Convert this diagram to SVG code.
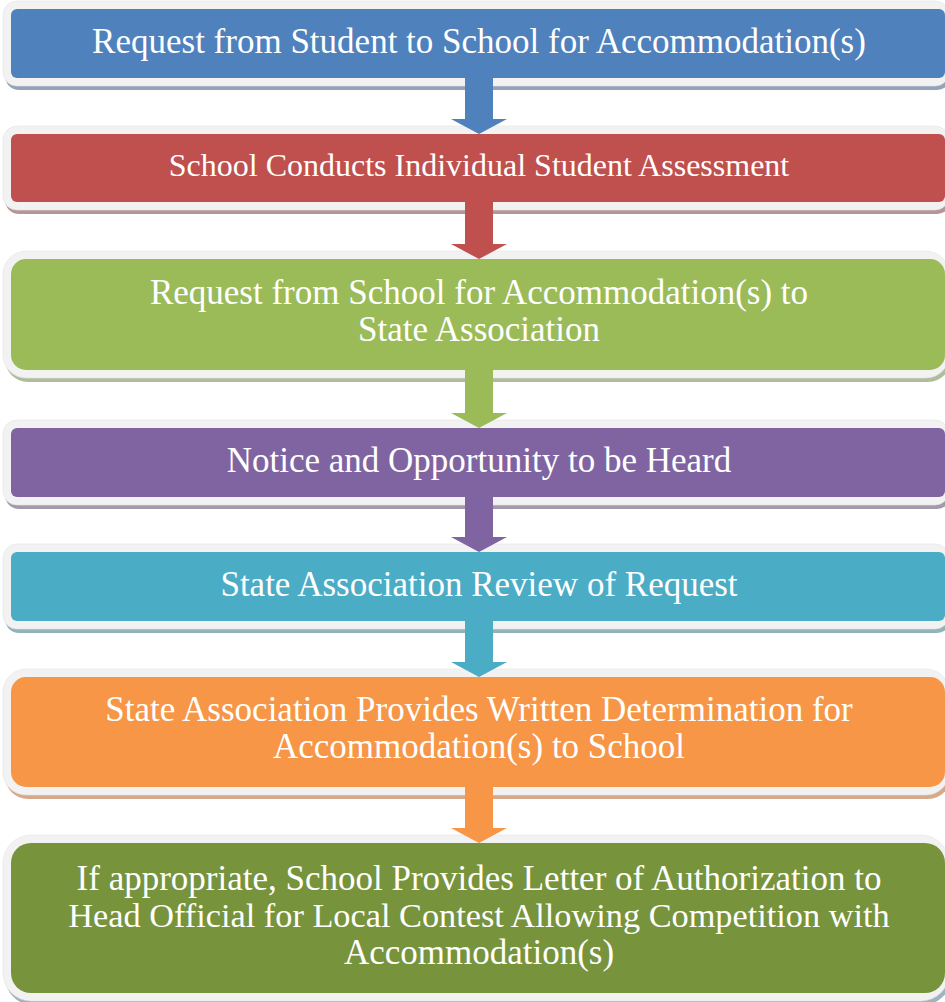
<svg xmlns="http://www.w3.org/2000/svg" width="945" height="1002" viewBox="0 0 945 1002">
<style>
.frame{fill:#f2f2f2;stroke:#e4e4e4;stroke-width:0.6}
.lbl{font-family:"Liberation Serif","Times New Roman",serif;font-size:35px;fill:#ffffff;text-anchor:middle}
</style>
<rect width="945" height="1002" fill="#ffffff"/>
<g id="node1">
<rect x="5" y="5" width="946" height="85" rx="14" fill="#93a3b8"/>
<rect class="frame" x="3" y="1" width="946" height="85" rx="14"/>
<rect x="11" y="9" width="934" height="69" rx="6" fill="#4f81bd"/>
<text class="lbl" x="479" y="53">Request from Student to School for Accommodation(s)</text>
</g>
<g id="node2">
<rect x="5" y="130" width="946" height="84" rx="14" fill="#b59696"/>
<rect class="frame" x="3" y="126" width="946" height="84" rx="14"/>
<rect x="11" y="134" width="934" height="68" rx="6" fill="#c0504d"/>
<text class="lbl" x="479" y="176" style="font-size:32px">School Conducts Individual Student Assessment</text>
</g>
<g id="node3">
<rect x="5" y="255" width="946" height="127" rx="23" fill="#b0bc9c"/>
<rect class="frame" x="3" y="251" width="946" height="127" rx="23"/>
<rect x="11" y="259" width="934" height="111" rx="15" fill="#9bbb59"/>
<text class="lbl" x="479" y="304">Request from School for Accommodation(s) to</text>
<text class="lbl" x="479" y="341">State Association</text>
</g>
<g id="node4">
<rect x="5" y="424" width="946" height="85" rx="14" fill="#a39bad"/>
<rect class="frame" x="3" y="420" width="946" height="85" rx="14"/>
<rect x="11" y="428" width="934" height="69" rx="6" fill="#8064a2"/>
<text class="lbl" x="479" y="472">Notice and Opportunity to be Heard</text>
</g>
<g id="node5">
<rect x="5" y="548" width="946" height="85" rx="14" fill="#93b2bc"/>
<rect class="frame" x="3" y="544" width="946" height="85" rx="14"/>
<rect x="11" y="552" width="934" height="69" rx="6" fill="#4bacc6"/>
<text class="lbl" x="479" y="596">State Association Review of Request</text>
</g>
<g id="node6">
<rect x="5" y="673" width="946" height="126" rx="23" fill="#d6a98b"/>
<rect class="frame" x="3" y="669" width="946" height="126" rx="23"/>
<rect x="11" y="677" width="934" height="110" rx="15" fill="#f79646"/>
<text class="lbl" x="479" y="721">State Association Provides Written Determination for</text>
<text class="lbl" x="479" y="758">Accommodation(s) to School</text>
</g>
<g id="node7">
<rect x="5" y="839" width="946" height="166" rx="28" fill="#9fb2bf"/>
<rect class="frame" x="3" y="835" width="946" height="166" rx="28"/>
<rect x="11" y="843" width="934" height="150" rx="20" fill="#77933c"/>
<text class="lbl" x="479" y="890">If appropriate, School Provides Letter of Authorization to</text>
<text class="lbl" x="479" y="927" style="font-size:34.3px">Head Official for Local Contest Allowing Competition with</text>
<text class="lbl" x="479" y="964">Accommodation(s)</text>
</g>
<g id="connectors">
<polygon points="465,74 493,74 493,119 507,119 479,134 451,119 465,119" fill="#4f81bd"/>
<polygon points="465,198 493,198 493,244 507,244 479,259 451,244 465,244" fill="#c0504d"/>
<polygon points="465,366 493,366 493,413 507,413 479,428 451,413 465,413" fill="#9bbb59"/>
<polygon points="465,493 493,493 493,537 507,537 479,552 451,537 465,537" fill="#8064a2"/>
<polygon points="465,617 493,617 493,662 507,662 479,677 451,662 465,662" fill="#4bacc6"/>
<polygon points="465,783 493,783 493,828 507,828 479,843 451,828 465,828" fill="#f79646"/>
</g>
</svg>
